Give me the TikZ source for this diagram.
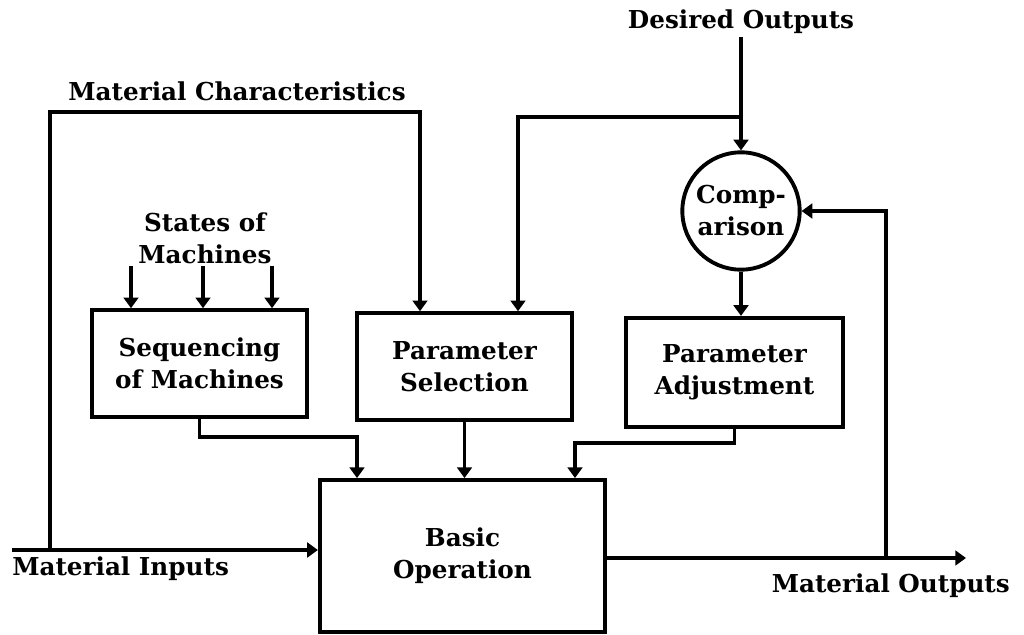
\documentclass[tikz,border=0pt]{standalone}
\usepackage{fontspec}
\setmainfont{DejaVu Serif}
\usetikzlibrary{arrows.meta}
\begin{document}
\begin{tikzpicture}[x=0.75pt,y=-0.75pt,
  every node/.style={font=\bfseries\fontsize{18.5}{24}\selectfont, inner sep=0pt},
  block/.style={draw, line width=2.9pt, align=center},
  arr/.style={line width=2.9pt, -{Triangle[width=11pt,length=8pt]}},
  wire/.style={line width=2.9pt}]
\useasboundingbox (0,0) rectangle (1024,635);

% blocks
\node[block, minimum width=161pt, minimum height=80pt] (seq) at (199.5,363.5) {Sequencing\\of Machines};
\node[block, minimum width=161pt, minimum height=80pt] (sel) at (464.5,366.5) {Parameter\\Selection};
\node[block, minimum width=163pt, minimum height=82pt] (adj) at (734.5,372.5) {Parameter\\Adjustment};
\node[block, minimum width=214pt, minimum height=114pt] (basic) at (462.5,556) {Basic\\Operation};
\node[block, circle, minimum size=88pt] (cmp) at (741,211) {Comp-\\arison};

% labels
\node (lmc) at (237,91) {Material Characteristics};
\node[align=center] (lsm) at (205,238) {States of\\Machines};
\node (ldo) at (741,22) {Desired Outputs};
\node[anchor=west] (lmi) at (12,569) {Material Inputs};
\node[anchor=east] (lmo) at (1010,586) {Material Outputs};

% helper points for bends and free ends
\coordinate (jin) at (50,550);
\coordinate (mc) at (420,112);
\coordinate (inS) at (12,550);
\coordinate (outE) at (966,558);
\coordinate (fb) at (886,558);
\coordinate (dtop) at (741,37);
\coordinate (dsel) at (518,117);
\coordinate (sb) at (357,437);
\coordinate (ab) at (575,443);

% material flow
\draw[arr] (inS) -- (inS -| basic.west);
\draw[arr] (outE -| basic.east) -- (outE);
\draw[arr] (jin) |- (mc) -- (mc |- sel.north);

% machine states
\foreach \x in {131,203,272}
  \draw[arr] (\x,266) -- (\x,0 |- seq.north);

% desired outputs
\draw[arr] (dtop) -- (cmp.north);
\draw[arr] (cmp.north |- dsel) -| (dsel |- sel.north);

% feedback loop
\draw[arr] (fb) |- (cmp.east);
\draw[arr] (cmp.south) -- (cmp.south |- adj.north);

% into basic operation
\draw[arr] (seq.south) |- (sb) -- (sb |- basic.north);
\draw[arr] (sel.south) -- (sel.south |- basic.north);
\draw[arr] (adj.south) |- (ab) -- (ab |- basic.north);
\end{tikzpicture}
\end{document}
